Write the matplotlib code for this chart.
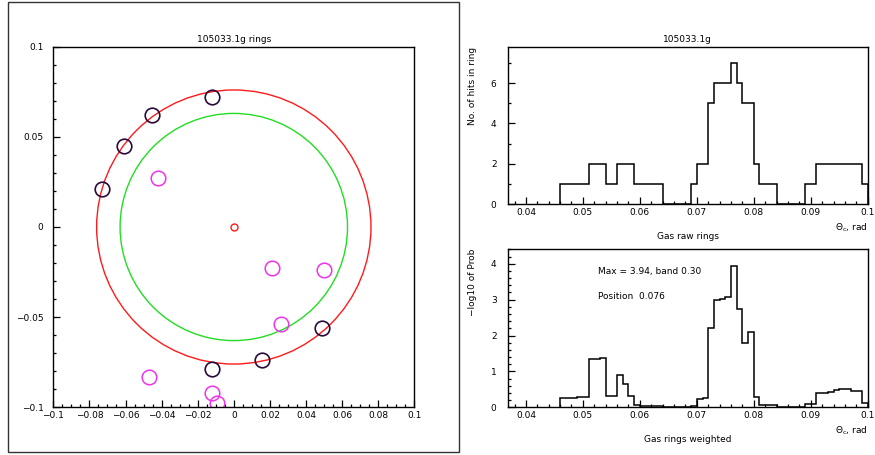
import numpy as np
import matplotlib
matplotlib.use("Agg")
import matplotlib.pyplot as plt
from matplotlib.patches import Circle, Rectangle
from matplotlib.ticker import MultipleLocator

# ring hits (left panel)
hit_x = [-0.0122, -0.0451, -0.0611, -0.0729, 0.0488, 0.0159, -0.0122]
hit_y = [0.0721, 0.0619, 0.0449, 0.0211, -0.0560, -0.0738, -0.0789]
other_x = [-0.0419, 0.0209, 0.0497, 0.0259, -0.0471, -0.0122, -0.0092]
other_y = [0.0270, -0.0229, -0.0240, -0.0540, -0.0830, -0.0919, -0.0978]
ring_center = (0.0, 0.0)
ring_radius = 0.076
inner_radius = 0.063

# histograms, bins of 0.001 from 0.046 to 0.100
bin_lo, bin_hi = 0.046, 0.100
raw_counts = [1, 1, 1, 1, 1, 2, 2, 2, 1, 1, 2, 2, 2, 1, 1, 1, 1, 1,
              0, 0, 0, 0, 0, 1, 2, 2, 5, 6, 6, 6, 7, 6, 5, 5, 2, 1, 1, 1,
              0, 0, 0, 0, 0, 1, 1, 2, 2, 2, 2, 2, 2, 2, 2, 1]
weighted = [0.26, 0.27, 0.27, 0.28, 0.29, 1.34, 1.35, 1.36, 0.31, 0.32,
            0.89, 0.64, 0.31, 0.06, 0.04, 0.03, 0.03, 0.03,
            0, 0, 0, 0, 0, 0.04, 0.24, 0.25, 2.21, 2.99, 3.02, 3.06,
            3.94, 2.73, 1.79, 2.10, 0.28, 0.07, 0.06, 0.06,
            0, 0, 0, 0, 0, 0.08, 0.10, 0.40, 0.41, 0.43, 0.48, 0.50,
            0.50, 0.46, 0.45, 0.12]

fs = 6.5
plt.rcParams['font.family'] = ['DejaVu Sans']
plt.rcParams['font.size'] = fs


def style_axes(ax):
    ax.tick_params(which='both', direction='in', top=False, right=False,
                   labelsize=fs, width=0.9)
    ax.tick_params(which='major', length=5)
    ax.tick_params(which='minor', length=2.5)
    for s in ax.spines.values():
        s.set_linewidth(1.0)


def hist_labels(ax, name, ylabel):
    # ROOT-like placement: axis title at right end, y title at top
    ax.annotate(r'$\Theta_{\rm c}$, rad', xy=(1, 0), xycoords='axes fraction',
                xytext=(0, -17), textcoords='offset points', ha='right', va='center')
    ax.annotate(name, xy=(0.5, 0), xycoords='axes fraction',
                xytext=(0, -23.5), textcoords='offset points', ha='center', va='center')
    ax.annotate(ylabel, xy=(0, 1), xycoords='axes fraction',
                xytext=(-25, 0), textcoords='offset points', ha='center', va='top',
                rotation=90)


fig = plt.figure(figsize=(8.75, 4.55), dpi=100)

# frame round the left panel
fig.patches.append(Rectangle((8 / 875, 1 - 452 / 455), 451 / 875, 450 / 455,
                             transform=fig.transFigure, fill=False,
                             edgecolor='#333333', linewidth=1.0))

# left panel: rings
ax1 = fig.add_axes([53.3 / 875, 1 - 407.3 / 455, 361 / 875, 360.6 / 455])
ax1.add_patch(Circle(ring_center, ring_radius, fill=False, color='#ff1a1a', lw=1.0))
ax1.add_patch(Circle(ring_center, inner_radius, fill=False, color='#22dd22', lw=1.0))
ax1.plot([ring_center[0]], [ring_center[1]], 'o', mfc='none', mec='#ff1a1a',
         ms=5, mew=1.0)
ax1.plot(other_x, other_y, 'o', mfc='none', mec='#ee33ee', ms=10.5, mew=1.1)
ax1.plot(hit_x, hit_y, 'o', mfc='none', mec='#2a0a38', ms=10.5, mew=1.2)
ax1.set_xlim(-0.1, 0.1)
ax1.set_ylim(-0.1, 0.1)
ax1.xaxis.set_minor_locator(MultipleLocator(0.005))
ax1.yaxis.set_minor_locator(MultipleLocator(0.01))
xt = [-0.1, -0.08, -0.06, -0.04, -0.02, 0, 0.02, 0.04, 0.06, 0.08, 0.1]
ax1.set_xticks(xt, ['\u22120.1', '\u22120.08', '\u22120.06', '\u22120.04', '\u22120.02',
                    '0', '0.02', '0.04', '0.06', '0.08', '0.1'])
yt = [-0.1, -0.05, 0, 0.05, 0.1]
ax1.set_yticks(yt, ['\u22120.1', '\u22120.05', '0', '0.05', '0.1'])
style_axes(ax1)
ax1.tick_params(axis='y', pad=7)
ax1.tick_params(axis='x', pad=3)
ax1.set_title('105033.1g rings', fontsize=fs, pad=3.5)

edges = np.linspace(bin_lo, bin_hi, len(raw_counts) + 1)
x_ticks = [0.04, 0.05, 0.06, 0.07, 0.08, 0.09, 0.1]
x_labels = ['0.04', '0.05', '0.06', '0.07', '0.08', '0.09', '0.1']

# top right: raw rings
ax2 = fig.add_axes([507.7 / 875, 1 - 204.3 / 455, 360 / 875, 157 / 455])
ax2.stairs(raw_counts, edges, color='black', lw=1.1)
ax2.set_xlim(0.0368, 0.1)
ax2.set_ylim(0, max(raw_counts) * 1.11)
ax2.xaxis.set_minor_locator(MultipleLocator(0.002))
ax2.yaxis.set_major_locator(MultipleLocator(2))
ax2.yaxis.set_minor_locator(MultipleLocator(1))
ax2.set_xticks(x_ticks, x_labels)
style_axes(ax2)
ax2.tick_params(axis='y', pad=8)
ax2.tick_params(axis='x', pad=3)
ax2.set_title('105033.1g', fontsize=fs, pad=3.5)
hist_labels(ax2, 'Gas raw rings', 'No. of hits in ring')

# bottom right: weighted rings
ax3 = fig.add_axes([507.7 / 875, 1 - 407.3 / 455, 360 / 875, 158.3 / 455])
ax3.stairs(weighted, edges, color='black', lw=1.1)
ax3.set_xlim(0.0368, 0.1)
ax3.set_ylim(0, 4.41)
ax3.xaxis.set_minor_locator(MultipleLocator(0.002))
ax3.yaxis.set_major_locator(MultipleLocator(1))
ax3.yaxis.set_minor_locator(MultipleLocator(0.2))
ax3.set_xticks(x_ticks, x_labels)
style_axes(ax3)
ax3.tick_params(axis='y', pad=8)
ax3.tick_params(axis='x', pad=3)
ax3.text(0.251, 0.861, 'Max = 3.94, band 0.30', transform=ax3.transAxes,
         ha='left', va='center')
ax3.text(0.251, 0.703, 'Position  0.076', transform=ax3.transAxes,
         ha='left', va='center')
hist_labels(ax3, 'Gas rings weighted', '\u2212log10 of Prob')

fig.savefig('out.png', dpi=100)
